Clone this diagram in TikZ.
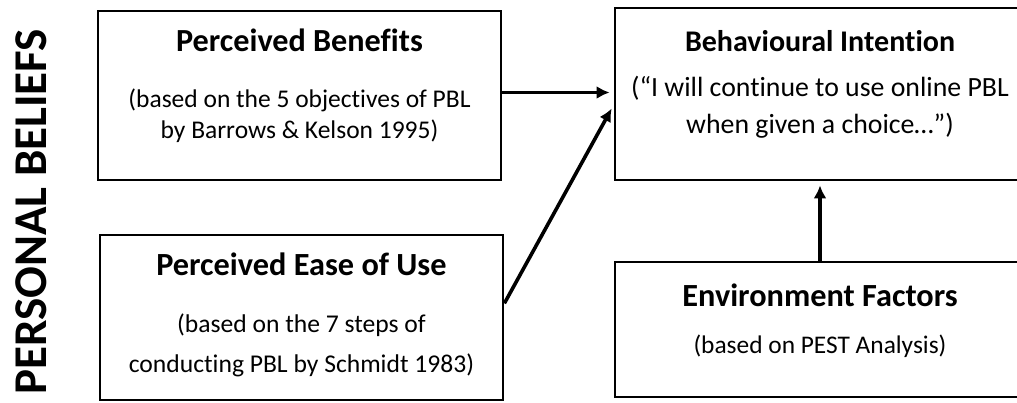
\documentclass[tikz,border=0pt]{standalone}
\usepackage{fontspec}
\setmainfont{Carlito}[Ligatures={CommonOff,ContextualOff}]
\usetikzlibrary{arrows.meta}

\tikzset{
  factor/.style={draw, line width=2.8pt, align=center, inner sep=0pt},
  link/.style={line width=3.6pt, -{Latex[length=13pt,width=13pt]}, shorten >=4pt},
}
\newcommand{\headline}[2]{{\fontsize{#1}{#1}\selectfont\bfseries #2}}

\begin{document}
\begin{tikzpicture}[x=1pt,y=-1pt]
    \useasboundingbox (0,0) rectangle (1017,402);
    \clip (0,0) rectangle (1017,402);

    % personal beliefs
    \node[rotate=90, font=\fontsize{47}{47}\selectfont\bfseries] (beliefs) at (31,212) {PERSONAL BELIEFS};

    \node[factor, minimum width=403pt, minimum height=169pt, text depth=24pt, font=\fontsize{25.5}{31}\selectfont] (benefit) at (299.5,95.5)
        {\headline{32.2}{Perceived Benefits}\\[25pt]
         (based on the 5 objectives of PBL\\ by Barrows \& Kelson 1995)};
    \node[factor, minimum width=403pt, minimum height=165pt, text depth=9pt, font=\fontsize{25.6}{40}\selectfont] (ease) at (301.5,317.5)
        {\headline{32.3}{Perceived Ease of Use}\\[17pt]
         (based on the 7 steps of\\ conducting PBL by Schmidt 1983)};

    % intention and environment
    \node[factor, minimum width=410pt, minimum height=172pt, text depth=24pt, font=\fontsize{27.8}{37}\selectfont] (intent) at (820,94)
        {\headline{30}{Behavioural Intention}\\[8pt]
         (“I will continue to use online PBL\\ when given a choice…”)};
    \node[factor, minimum width=410pt, minimum height=135pt, text depth=22pt, font=\fontsize{25.4}{38}\selectfont] (environ) at (820,329.5)
        {\headline{32.3}{Environment Factors}\\[9pt]
         (based on PEST Analysis)};

    \draw[link] ([yshift=3pt]benefit.east) -- ([yshift=3pt]benefit.east -| intent.west);
    \draw[link] (ease.4) -- ([yshift=-11pt]intent.west);
    \draw[link] (environ.north) -- (intent.south);

\end{tikzpicture}
\end{document}
